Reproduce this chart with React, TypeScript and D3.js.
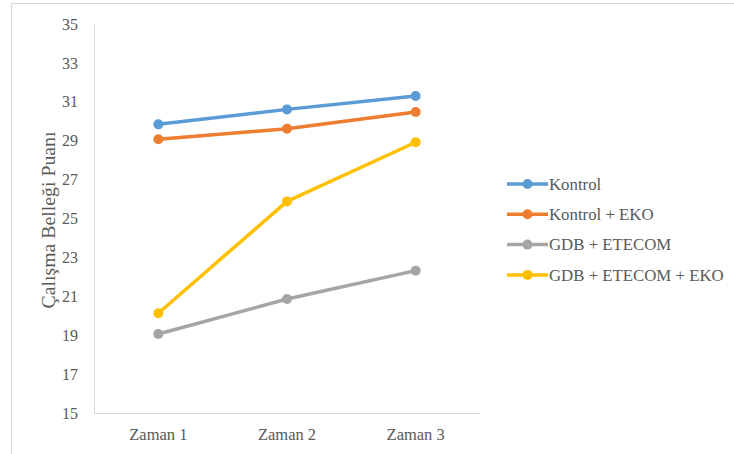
import React from "react";
import * as d3 from "d3";

const categories = ["Zaman 1", "Zaman 2", "Zaman 3"];
const seriesNames = ["Kontrol", "Kontrol + EKO", "GDB + ETECOM", "GDB + ETECOM + EKO"];
const kontrol = [29.84, 30.61, 31.3];
const kontrolEko = [29.07, 29.62, 30.48];
const gdbEtecom = [19.06, 20.86, 22.32];
const gdbEtecomEko = [20.13, 25.88, 28.92];
const yTicks = [15, 17, 19, 21, 23, 25, 27, 29, 31, 33, 35];
const colors = ["#5B9BD5", "#ED7D31", "#A5A5A5", "#FFC000"];

const W = 734;
const H = 454;
const FONT = "Liberation Serif, Tinos, DejaVu Serif, serif";
const TEXT = "#595959";

const txt = (size: number): React.CSSProperties => ({
  fontFamily: FONT,
  fontSize: `${size}px`,
  fill: TEXT,
});

export default function App() {
  const allSeries = [kontrol, kontrolEko, gdbEtecom, gdbEtecomEko];
  const x = d3.scaleBand<string>().domain(categories).range([94, 480]);
  const y = d3.scaleLinear().domain([15, 35]).range([413, 24]);
  const cx = (i: number) => (x(categories[i]) as number) + x.bandwidth() / 2;
  const line = d3
    .line<number>()
    .x((_, i) => cx(i))
    .y((d) => y(d));

  return (
    <svg
      width={W}
      height={H}
      style={{ position: "absolute", left: 0, top: 0, background: "#fff" }}
    >
      <rect x={11.5} y={3.5} width={W} height={H} fill="#fff" stroke="#D9D9D9" strokeWidth={1} />
      {/* axes */}
      <line x1={94.5} x2={94.5} y1={y(35)} y2={y(15)} stroke="#D9D9D9" strokeWidth={1} />
      <line x1={94} x2={480} y1={y(15) + 0.5} y2={y(15) + 0.5} stroke="#D9D9D9" strokeWidth={1} />
      {yTicks.map((t) => (
        <text key={t} x={78} y={y(t)} dy="0.35em" textAnchor="end" style={txt(16)}>
          {t}
        </text>
      ))}
      {categories.map((c, i) => (
        <text key={c} x={cx(i)} y={440} textAnchor="middle" style={txt(16.5)}>
          {c}
        </text>
      ))}
      <text
        transform={`translate(55,220) rotate(-90)`}
        textAnchor="middle"
        style={txt(19.8)}
      >
        Çalışma Belleği Puanı
      </text>
      {/* series */}
      {allSeries.map((vals, si) => (
        <g key={si}>
          <path d={line(vals) || ""} fill="none" stroke={colors[si]} strokeWidth={3.5} strokeLinejoin="round" />
          {vals.map((v, i) => (
            <circle key={i} cx={cx(i)} cy={y(v)} r={5} fill={colors[si]} />
          ))}
        </g>
      ))}
      {/* legend */}
      {seriesNames.map((n, i) => {
        const ly = 184 + i * 30.3;
        return (
          <g key={n}>
            <line x1={507} x2={548} y1={ly} y2={ly} stroke={colors[i]} strokeWidth={3.5} />
            <circle cx={527.5} cy={ly} r={5} fill={colors[i]} />
            <text x={549} y={ly} dy="0.35em" style={txt(16.8)}>
              {n}
            </text>
          </g>
        );
      })}
    </svg>
  );
}
